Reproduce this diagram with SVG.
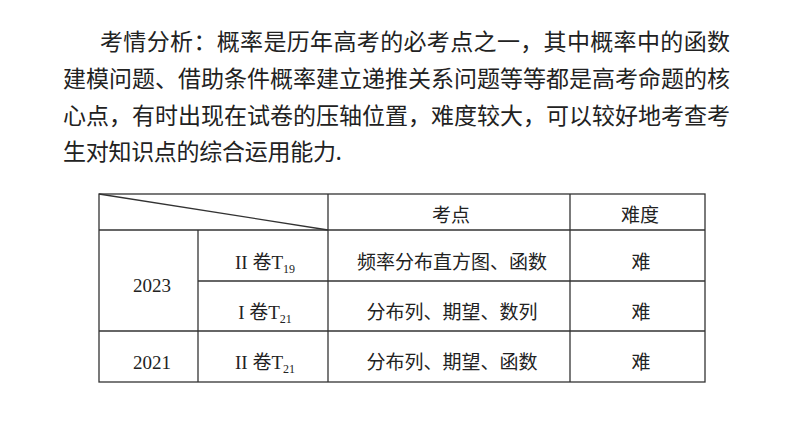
<svg xmlns="http://www.w3.org/2000/svg" width="794" height="447" viewBox="0 0 794 447">
<style>
.p{font-family:"Noto Sans CJK SC","Liberation Sans",sans-serif;font-size:23px;fill:#222}
.t{font-family:"Liberation Serif","Noto Sans CJK SC",serif;font-size:19px;fill:#222;text-anchor:middle}
.c{font-family:"Noto Sans CJK SC",sans-serif;font-size:19px;fill:#222;text-anchor:middle}
.s{font-size:12px}
line{stroke:#333;stroke-width:1.3}
</style>
<rect width="794" height="447" fill="#fff"/>
<g id="para">
<text class="p" x="100" y="50" textLength="630">考情分析：概率是历年高考的必考点之一，其中概率中的函数</text>
<text class="p" x="63" y="87" textLength="667">建模问题、借助条件概率建立递推关系问题等等都是高考命题的核</text>
<text class="p" x="63" y="124" textLength="667">心点，有时出现在试卷的压轴位置，难度较大，可以较好地考查考</text>
<text class="p" x="63" y="160" textLength="279">生对知识点的综合运用能力.</text>
</g>
<g id="grid">
<rect x="99" y="194" width="606" height="188" fill="none" stroke="#333" stroke-width="1.3"/>
<line x1="99" y1="230" x2="705" y2="230"/>
<line x1="198" y1="331" x2="705" y2="331"/>
<line x1="198" y1="281" x2="705" y2="281"/>
<line x1="99" y1="331" x2="198" y2="331"/>
<line x1="198" y1="230" x2="198" y2="382"/>
<line x1="328" y1="194" x2="328" y2="382"/>
<line x1="570" y1="194" x2="570" y2="382"/>
<line x1="99" y1="194" x2="328" y2="230" stroke-width="1"/>
</g>
<g id="header">
<text class="c" x="451" y="222">考点</text>
<text class="c" x="640" y="222">难度</text>
</g>
<g id="row1">
<text class="t" x="152" y="292">2023</text>
<text class="t" x="265" y="269">II 卷T<tspan class="s" dy="4">19</tspan></text>
<text class="c" x="452" y="269">频率分布直方图、函数</text>
<text class="c" x="641" y="269">难</text>
</g>
<g id="row2">
<text class="t" x="265" y="319">I 卷T<tspan class="s" dy="4">21</tspan></text>
<text class="c" x="452" y="319">分布列、期望、数列</text>
<text class="c" x="641" y="319">难</text>
</g>
<g id="row3">
<text class="t" x="152" y="369">2021</text>
<text class="t" x="265" y="369">II 卷T<tspan class="s" dy="4">21</tspan></text>
<text class="c" x="452" y="369">分布列、期望、函数</text>
<text class="c" x="641" y="369">难</text>
</g>
</svg>
